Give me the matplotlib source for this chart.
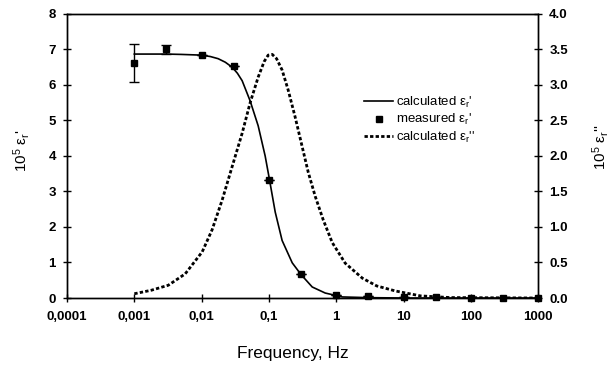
import matplotlib
matplotlib.use("Agg")
import matplotlib.pyplot as plt
import numpy as np

plt.rcParams['font.family'] = ['Liberation Sans', 'DejaVu Sans']
plt.rcParams['mathtext.default'] = 'regular'

# measured eps' (left axis), with error bars on the first two points
meas_f = [0.001, 0.003, 0.01, 0.03, 0.1, 0.3, 1, 3, 10, 30, 100, 300, 1000]
meas_eps1 = [6.62, 7.0, 6.85, 6.54, 3.32, 0.68, 0.08, 0.06, 0.03, 0.02, 0.01, 0.01, 0.0]
meas_err_lo = [0.55, 0.12, 0, 0, 0, 0, 0, 0, 0, 0, 0, 0, 0]
meas_err_hi = [0.53, 0.13, 0, 0, 0, 0, 0, 0, 0, 0, 0, 0, 0]

# calculated eps' (left axis)
calc1_f = [0.001, 0.003, 0.005, 0.01, 0.0135, 0.0176, 0.0225, 0.0284, 0.034, 0.040,
           0.0526, 0.0692, 0.0879, 0.1, 0.124, 0.157, 0.222, 0.3, 0.44, 0.686, 1.23,
           3, 10, 1000]
calc1_v = [6.87, 6.87, 6.86, 6.84, 6.80, 6.74, 6.64, 6.50, 6.33, 6.12,
           5.55, 4.85, 4.0, 3.42, 2.42, 1.62, 0.99, 0.66, 0.31, 0.14, 0.03,
           0.01, 0.0, 0.0]

# calculated eps'' (right axis)
calc2_f = [0.001, 0.0018, 0.0032, 0.0057, 0.0102, 0.0143, 0.0202, 0.0284, 0.040,
           0.0526, 0.0692, 0.0850, 0.0975, 0.112, 0.130, 0.157, 0.193, 0.245, 0.312,
           0.384, 0.488, 0.641, 0.873, 1.36, 2.44, 4.0, 7.5, 17.8, 50, 1000]
calc2_v = [0.06, 0.11, 0.18, 0.34, 0.65, 0.96, 1.38, 1.85, 2.32,
           2.75, 3.11, 3.33, 3.42, 3.43, 3.37, 3.21, 2.93, 2.55, 2.13,
           1.77, 1.43, 1.10, 0.78, 0.49, 0.28, 0.17, 0.10, 0.03, 0.006, 0.0]

xticks = [0.0001, 0.001, 0.01, 0.1, 1, 10, 100, 1000]
xticklabels = ["0,0001", "0,001", "0,01", "0,1", "1", "10", "100", "1000"]

fig = plt.figure(figsize=(6.15, 3.67), dpi=100)
ax = fig.add_axes([0.109, 0.188, 0.766, 0.774])
ax2 = ax.twinx()

l1, = ax.plot(calc1_f, calc1_v, color='black', lw=1.2, label="calculated ε$_r$'")
ax.errorbar(meas_f, meas_eps1, yerr=[meas_err_lo, meas_err_hi], fmt='none',
            ecolor='black', elinewidth=1, capsize=3.5, capthick=1)
m1, = ax.plot(meas_f, meas_eps1, 's', color='black', ms=5, label="measured ε$_r$'",
              clip_on=False, zorder=5)
l2, = ax2.plot(calc2_f, calc2_v, color='black', lw=2, ls=(0, (1.2, 0.8)),
               label="calculated ε$_r$''")

ax.set_xscale('log')
ax.set_xlim(0.0001, 1000)
ax.set_ylim(0, 8)
ax2.set_ylim(0, 4)
ax.set_xticks(xticks)
ax.set_xticklabels(xticklabels)
ax.minorticks_off()
ax.set_yticks(range(0, 9))
ax2.set_yticks(np.arange(0, 4.01, 0.5))
ax2.set_yticklabels([f"{v:.1f}" for v in np.arange(0, 4.01, 0.5)])

for a in (ax, ax2):
    a.tick_params(direction='inout', length=6, width=1, labelsize=9.5)
    for s in a.spines.values():
        s.set_linewidth(1)
ax.tick_params(axis='x', pad=6)
ax.tick_params(axis='y', pad=5)
ax2.tick_params(axis='y', pad=5)
for lab in ax.get_xticklabels() + ax.get_yticklabels() + ax2.get_yticklabels():
    lab.set_fontweight('bold')

ax.set_xlabel("Frequency, Hz", fontsize=12.5)
ax.xaxis.set_label_coords(0.48, -0.17)
ax.set_ylabel("10$^5$ ε$_r$'", fontsize=11)
ax.yaxis.set_label_coords(-0.075, 0.52)
ax2.set_ylabel("10$^5$ ε$_r$''", fontsize=11)
ax2.yaxis.set_label_coords(1.11, 0.53)

ax2.legend(handles=[l1, m1, l2], loc='upper left', bbox_to_anchor=(0.62, 0.735),
           frameon=False, fontsize=9.5, handlelength=2.2, handletextpad=0.2,
           labelspacing=0.2, borderaxespad=0)

fig.savefig("out.png", dpi=100)
